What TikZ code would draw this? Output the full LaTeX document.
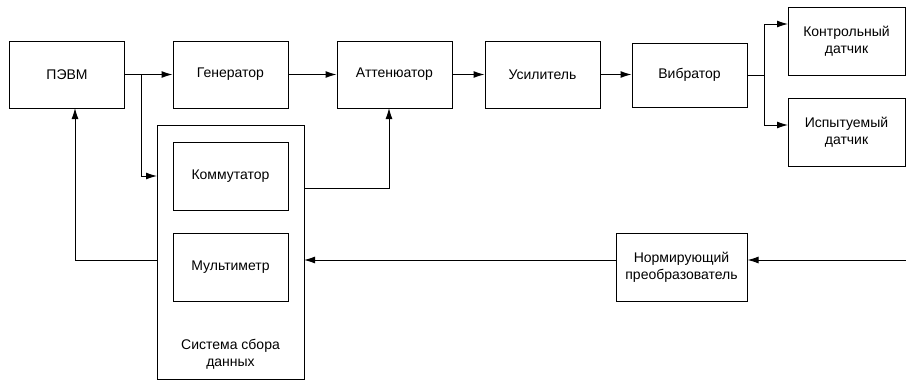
\documentclass[tikz,border=0pt]{standalone}
\usepackage{fontspec}
\setmainfont{Liberation Sans}
\usetikzlibrary{arrows.meta}
\newcommand{\blocknode}[4]{\node[blk] (#1) at ( #2 , #3 ) {#4};}

\begin{document}
\begin{tikzpicture}[x=1pt,y=-1pt,
  blk/.style={draw, line width=1pt, minimum width=115pt, minimum height=67pt,
    align=center, inner sep=2pt, font=\fontsize{14}{17}\selectfont},
  conn/.style={line width=1pt, -{Latex[length=11pt,width=7pt]}},
  wire/.style={line width=1pt}]
        \useasboundingbox (0,0) rectangle (906,380);
        %blocks
        \blocknode{pevm}{67}{74.5}{ПЭВМ}
        \blocknode{gen}{230.5}{74.5}{Генератор}
        \blocknode{att}{394.5}{74.5}{Аттенюатор}
        \blocknode{usil}{542.5}{74.5}{Усилитель}
        \node[blk, minimum height=64pt] (vibr) at (689.5,75) {Вибратор};
        \node[blk, minimum width=117pt, minimum height=68pt] (kontr) at (846.5,41) {Контрольный\\датчик};
        \node[blk, minimum width=117pt, minimum height=68pt] (isp) at (846.5,132) {Испытуемый\\датчик};
        \node[blk, minimum width=147pt, minimum height=254pt] (ssd) at (230.5,252) {};
        \node[font=\fontsize{14}{17}\selectfont, align=center] (ssdlbl) at (230.5,354) {Система сбора\\данных};
        \node[blk, minimum height=68pt] (komm) at (230.5,176) {Коммутатор};
        \node[blk, minimum height=68pt] (mult) at (230.5,267) {Мультиметр};
        \node[blk, minimum width=131pt, minimum height=68pt] (norm) at (681.5,267) {Нормирующий\\преобразователь};
        %points
        \coordinate (br1) at (141,74.5);
        \coordinate (ssdin) at (157,176);
        \coordinate (kout) at (304,188);
        \coordinate (attin) at (389,108);
        \coordinate (fb) at (157,260);
        \coordinate (pevmin) at (75,108);
        \coordinate (ssdr) at (304,260);
        \coordinate (inp) at (906,260);
        \coordinate (br2) at (764,75);
        \coordinate (kin) at (788,24);
        \coordinate (iin) at (788,125);
        %connectors
        \draw[conn] (pevm.east) -- (gen.west);
        \draw[conn] (br1) |- (ssdin);
        \draw[conn] (gen.east) -- (att.west);
        \draw[conn] (att.east) -- (usil.west);
        \draw[conn] (usil.east) -- (usil.east -| vibr.west);
        \draw[wire] (vibr.east) -- (br2);
        \draw[conn] (br2) |- (kin);
        \draw[conn] (br2) |- (iin);
        \draw[wire] (kin -| kontr.east) -- ++(4,0);
        \draw[wire] (iin -| isp.east) -- ++(4,0);
        \draw[conn] (kout) -| (attin);
        \draw[conn] (fb) -| (pevmin);
        \draw[conn] (inp) -- (inp -| norm.east);
        \draw[conn] (inp -| norm.west) -- (ssdr);
\end{tikzpicture}
\end{document}
